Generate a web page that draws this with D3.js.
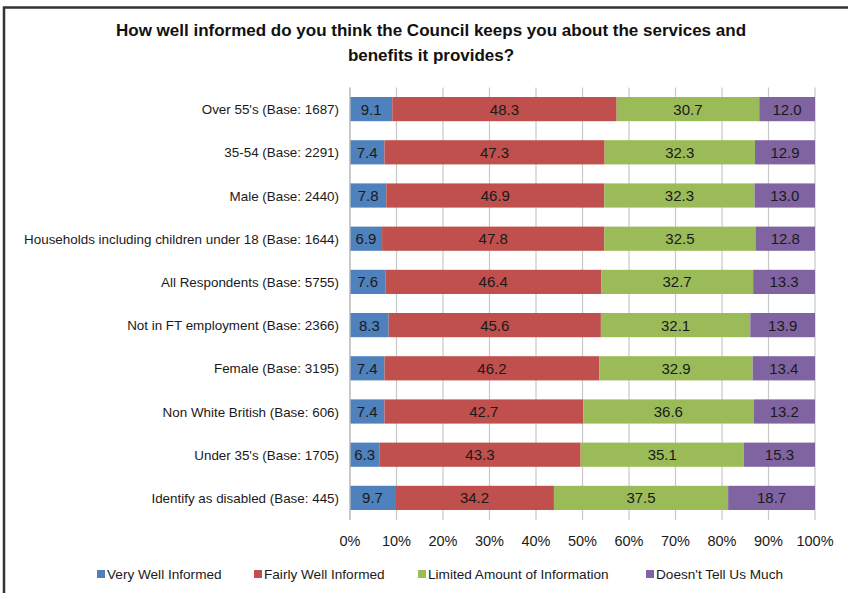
<!DOCTYPE html>
<html>
<head>
<meta charset="utf-8">
<script src="https://cdn.jsdelivr.net/npm/d3@7"></script>
<style>
  html, body { margin: 0; padding: 0; background: #fff; }
  svg { display: block; font-family: "Liberation Sans", Arial, sans-serif; }
</style>
</head>
<body>
<svg id="chart" width="848" height="593"></svg>
<script>
// Survey responses, top row first
const categories = [
  "Over 55's (Base: 1687)",
  "35-54 (Base: 2291)",
  "Male (Base: 2440)",
  "Households including children under 18 (Base: 1644)",
  "All Respondents (Base: 5755)",
  "Not in FT employment (Base: 2366)",
  "Female (Base: 3195)",
  "Non White British (Base: 606)",
  "Under 35's (Base: 1705)",
  "Identify as disabled (Base: 445)"
];
const seriesNames = ["Very Well Informed", "Fairly Well Informed", "Limited Amount of Information", "Doesn't Tell Us Much"];
const veryWell   = [9.1, 7.4, 7.8, 6.9, 7.6, 8.3, 7.4, 7.4, 6.3, 9.7];
const fairlyWell = [48.3, 47.3, 46.9, 47.8, 46.4, 45.6, 46.2, 42.7, 43.3, 34.2];
const limited    = [30.7, 32.3, 32.3, 32.5, 32.7, 32.1, 32.9, 36.6, 35.1, 37.5];
const notMuch    = [12.0, 12.9, 13.0, 12.8, 13.3, 13.9, 13.4, 13.2, 15.3, 18.7];
const tickLabels = ["0%", "10%", "20%", "30%", "40%", "50%", "60%", "70%", "80%", "90%", "100%"];
const colors = ["#4F81BD", "#C0504D", "#9BBB59", "#8064A2"];

const rows = categories.map((c, i) => ({
  cat: c,
  s0: veryWell[i], s1: fairlyWell[i], s2: limited[i], s3: notMuch[i]
}));
const keys = ["s0", "s1", "s2", "s3"];

const svg = d3.select("#chart");

// outer frame
svg.append("path")
  .attr("d", "M4,593 L4,7.5 L848,7.5")
  .attr("fill", "none").attr("stroke", "#333").attr("stroke-width", 2.5);

// title
const title = svg.append("text")
  .attr("x", 431).attr("text-anchor", "middle")
  .attr("font-weight", "bold").attr("font-size", 17).attr("fill", "#111");
title.append("tspan").attr("x", 431).attr("y", 36)
  .text("How well informed do you think the Council keeps you about the services and");
title.append("tspan").attr("x", 431).attr("y", 61)
  .text("benefits it provides?");

const x = d3.scaleLinear().domain([0, 1]).range([350, 815]);
const y = d3.scaleBand().domain(categories).range([87.5, 519.5]).paddingInner(0.44).paddingOuter(0.22);

const stack = d3.stack().keys(keys).offset(d3.stackOffsetExpand);
const layers = stack(rows);

// vertical gridlines
svg.append("g").selectAll("line")
  .data(d3.range(0, 1.0001, 0.1))
  .join("line")
  .attr("x1", d => x(d)).attr("x2", d => x(d))
  .attr("y1", 87.5).attr("y2", 520)
  .attr("stroke", "#c8c8c8").attr("stroke-width", 1.2);

// bars
const g = svg.append("g");
layers.forEach((layer, li) => {
  const lg = g.append("g");
  lg.selectAll("rect")
    .data(layer)
    .join("rect")
    .attr("x", d => x(d[0]))
    .attr("width", d => x(d[1]) - x(d[0]))
    .attr("y", d => y(d.data.cat))
    .attr("height", y.bandwidth())
    .attr("fill", colors[li]);
  lg.selectAll("text")
    .data(layer)
    .join("text")
    .attr("x", d => (x(d[0]) + x(d[1])) / 2)
    .attr("y", d => y(d.data.cat) + y.bandwidth() / 2 + 5.5)
    .attr("text-anchor", "middle")
    .attr("font-size", 15)
    .attr("fill", "#1a1a1a")
    .text(d => d.data[keys[li]].toFixed(1));
});

// category axis line
svg.append("line")
  .attr("x1", x(0)).attr("x2", x(0)).attr("y1", 87.5).attr("y2", 520)
  .attr("stroke", "#bdbdbd").attr("stroke-width", 1.2);

// category labels
svg.append("g").selectAll("text")
  .data(categories)
  .join("text")
  .attr("x", 339)
  .attr("y", d => y(d) + y.bandwidth() / 2 + 5)
  .attr("text-anchor", "end")
  .attr("font-size", 13.4)
  .attr("fill", "#1a1a1a")
  .text(d => d);

// percentage axis labels
svg.append("g").selectAll("text")
  .data(tickLabels)
  .join("text")
  .attr("x", (d, i) => x(i / 10))
  .attr("y", 546)
  .attr("text-anchor", "middle")
  .attr("font-size", 14.5)
  .attr("fill", "#1a1a1a")
  .text(d => d);

// legend
const legendX = [97, 254, 418, 646];
const lg = svg.append("g");
seriesNames.forEach((name, i) => {
  lg.append("rect")
    .attr("x", legendX[i]).attr("y", 570)
    .attr("width", 8).attr("height", 8)
    .attr("fill", colors[i]);
  lg.append("text")
    .attr("x", legendX[i] + 10).attr("y", 579)
    .attr("font-size", 13.6)
    .attr("fill", "#1a1a1a")
    .text(name);
});
</script>
</body>
</html>
